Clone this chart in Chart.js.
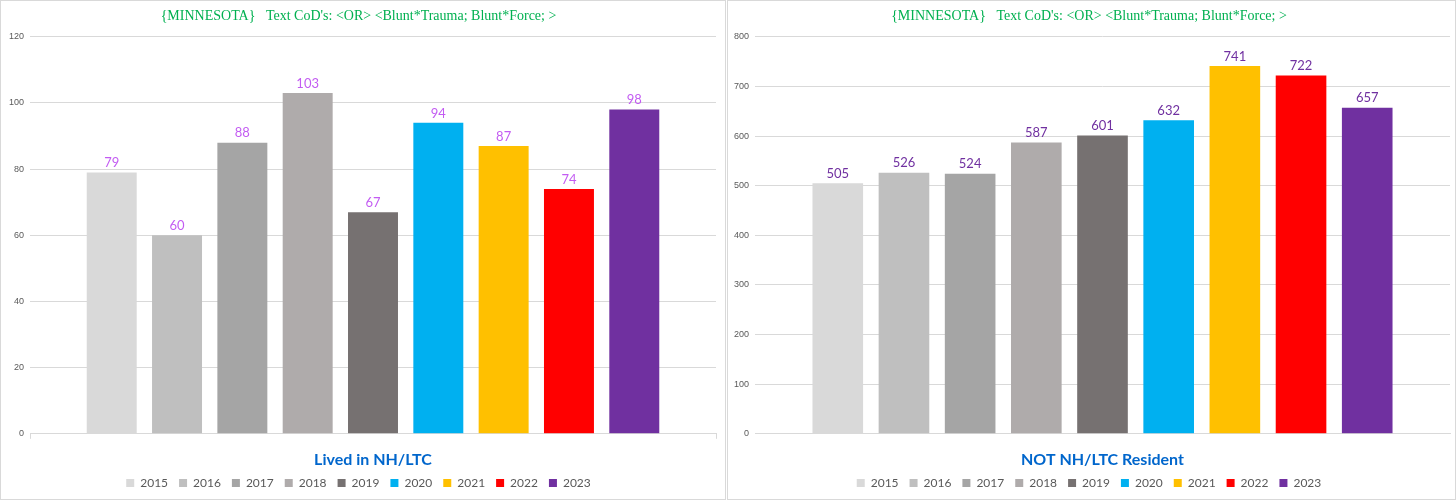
<!DOCTYPE html>
<html>
<head>
<meta charset="utf-8">
<script src="https://cdn.jsdelivr.net/npm/chart.js@4/dist/chart.umd.min.js"></script>
<style>
  body { margin: 0; background: #fff; }
  .panel { position: absolute; top: 0; height: 498px; border: 1px solid #d9d9d9; background: #fff; }
  #leftPanel { left: 0; width: 724px; }
  #rightPanel { left: 727px; width: 727px; }
</style>
</head>
<body>
<div class="panel" id="leftPanel"><canvas id="nhChart"></canvas></div>
<div class="panel" id="rightPanel"><canvas id="notNhChart"></canvas></div>
<script>
const titleText = "{MINNESOTA}   Text CoD's: <OR> <Blunt*Trauma; Blunt*Force; >";
const years = ["2015", "2016", "2017", "2018", "2019", "2020", "2021", "2022", "2023"];
const yearColors = ["#D9D9D9", "#BFBFBF", "#A5A5A5", "#AFABAB", "#767171", "#00B0F0", "#FFC000", "#FF0000", "#7030A0"];
const nhValues = [79, 60, 88, 103, 67, 94, 87, 74, 98];
const notNhValues = [505, 526, 524, 587, 601, 632, 741, 722, 657];
const nhTicks = { max: 120, step: 20 };
const notNhTicks = { max: 800, step: 100 };

// draws the value above every bar
const valueLabels = {
  id: "valueLabels",
  afterDatasetsDraw(chart, args, opts) {
    const ctx = chart.ctx;
    ctx.save();
    ctx.font = "13px Lato";
    ctx.fillStyle = opts.color;
    ctx.textAlign = "center";
    ctx.textBaseline = "bottom";
    chart.data.datasets.forEach((ds, i) => {
      const meta = chart.getDatasetMeta(i);
      if (meta.hidden) return;
      meta.data.forEach((bar, j) => {
        ctx.fillText(ds.data[j], bar.x, bar.y - 3);
      });
    });
    ctx.restore();
  }
};

function makeChart(id, category, values, ticks, labelColor, axisWidth, rightPad, edgeTicks) {
  const datasets = years.map((y, i) => ({
    label: y,
    data: [values[i]],
    backgroundColor: yearColors[i],
    borderWidth: 0,
    categoryPercentage: 0.857,
    barPercentage: 0.765
  }));

  return new Chart(document.getElementById(id), {
    type: "bar",
    data: { labels: [category], datasets: datasets },
    plugins: [valueLabels],
    options: {
      responsive: true,
      maintainAspectRatio: false,
      animation: false,
      layout: { padding: { left: 0, right: rightPad, top: 0, bottom: 0 } },
      plugins: {
        title: {
          display: true,
          text: titleText,
          color: "#00B050",
          font: { family: "Liberation Serif", size: 14, weight: "normal" },
          padding: { top: 7, bottom: 12 }
        },
        legend: {
          position: "bottom",
          labels: {
            boxWidth: 8,
            boxHeight: 8,
            padding: 11,
            color: "#595959",
            font: { family: "Lato", size: 12 }
          }
        },
        tooltip: { enabled: false },
        valueLabels: { color: labelColor }
      },
      scales: {
        x: {
          afterFit(scale) { scale.height -= 14; },
          grid: { display: edgeTicks, drawOnChartArea: false, color: "#D9D9D9", tickLength: 5 },
          border: { display: true, color: "#D9D9D9" },
          ticks: {
            color: "#0066CC",
            font: { family: "Lato", size: 16, weight: "bold" },
            padding: 11
          }
        },
        y: {
          min: 0,
          max: ticks.max,
          afterFit(scale) { scale.width = axisWidth; },
          grid: { color: "#D9D9D9", drawTicks: false },
          border: { display: false },
          ticks: {
            stepSize: ticks.step,
            color: "#595959",
            font: { family: "Liberation Sans", size: 9 },
            padding: 6
          }
        }
      }
    }
  });
}

makeChart("nhChart", "Lived in NH/LTC", nhValues, nhTicks, "#C35CF2", 29, 9, true);
makeChart("notNhChart", "NOT NH/LTC Resident", notNhValues, notNhTicks, "#7030A0", 27, 5, false);
</script>
</body>
</html>
